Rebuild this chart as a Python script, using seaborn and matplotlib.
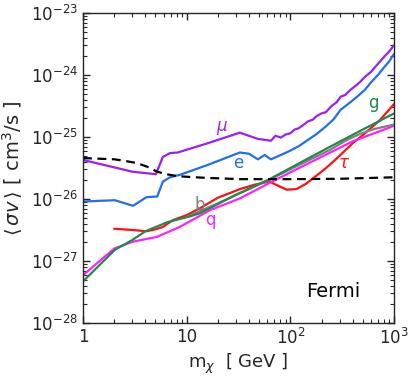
import matplotlib
matplotlib.use("Agg")
import matplotlib.pyplot as plt
import numpy as np
import pandas as pd
import seaborn as sns
from matplotlib.ticker import LogLocator, NullFormatter

sns.set_style("ticks")
plt.rcParams.update({'font.size': 12})
plt.rcParams['font.family'] = ['DejaVu Sans']

# Fermi limit (dashed) and channel curves, m in GeV, <sigma v> in cm^3/s
m_lim = [1, 2, 2.43, 3.3, 4.2, 5.2, 6.5, 8.1, 11, 15.7, 33, 100, 300, 1000]
sv_lim = [4.57e-26, 4.37e-26, 4.17e-26, 3.8e-26, 3.3e-26, 2.75e-26, 2.5e-26,
          2.34e-26, 2.26e-26, 2.19e-26, 2.09e-26, 2.09e-26, 2.12e-26, 2.24e-26]

m_mu = [1, 3.0, 5.05, 5.9, 6.9, 8.2, 16, 32.6, 48.6, 65, 72, 81, 90, 100, 110,
        120, 135, 147, 165, 180, 200, 220, 250, 280, 306, 340, 380, 430, 480,
        524, 600, 700, 800, 900, 1000]
lg_mu = [-25.37, -25.56, -25.60, -25.32, -25.26, -25.25, -25.10, -24.93, -25.03,
         -25.06, -24.98, -25.01, -24.96, -24.94, -24.88, -24.86, -24.80, -24.75,
         -24.72, -24.66, -24.62, -24.60, -24.50, -24.44, -24.35, -24.32, -24.24,
         -24.17, -24.10, -24.03, -23.95, -23.82, -23.71, -23.62, -23.52]

m_e = [1, 2.03, 3.04, 4.1, 5.2, 5.9, 6.9, 8.6, 16, 32.6, 40, 48.6, 56.6, 65, 81,
       100, 120, 147, 180, 220, 260, 306, 360, 420, 524, 600, 700, 800, 900, 1000]
lg_e = [-26.04, -26.02, -26.11, -25.97, -25.96, -25.72, -25.65, -25.61, -25.45,
        -25.25, -25.27, -25.36, -25.29, -25.36, -25.29, -25.22, -25.15, -25.05,
        -24.95, -24.83, -24.72, -24.56, -24.47, -24.38, -24.24, -24.12, -24.00,
        -23.88, -23.78, -23.66]

m_tau = [2.0, 3.0, 4.1, 5.0, 5.9, 7.4, 10, 13.4, 20, 32.7, 45, 63, 75, 92.6, 115,
         140, 165, 200, 240, 300, 400, 500, 730, 1000]
lg_tau = [-26.48, -26.50, -26.52, -26.49, -26.45, -26.34, -26.26, -26.15, -25.98,
          -25.84, -25.77, -25.72, -25.78, -25.85, -25.84, -25.76, -25.67, -25.56,
          -25.45, -25.30, -25.10, -24.97, -24.73, -24.47]

m_g = [1, 2.03, 3.0, 4.0, 6.6, 10.8, 13.4, 30, 63, 100, 240, 500, 1000]
lg_g = [-27.33, -26.82, -26.66, -26.52, -26.37, -26.28, -26.23, -25.93, -25.68,
        -25.50, -25.16, -24.88, -24.62]

m_b = [10, 20, 40, 63, 100, 240, 350, 470, 650, 1000]
lg_b = [-26.29, -26.07, -25.84, -25.69, -25.52, -25.21, -25.05, -24.95, -24.87, -24.80]

m_q = [1, 2.0, 3.0, 5.2, 8.6, 16.8, 32.7, 60, 100, 200, 400, 1000]
lg_q = [-27.23, -26.80, -26.69, -26.61, -26.45, -26.18, -25.99, -25.76, -25.57,
        -25.32, -25.07, -24.82]

x_ticks = [1, 10, 100, 1000]
x_ticklabels = ["1", "10", r"$10^2$", r"$10^3$"]
y_ticks = [1e-28, 1e-27, 1e-26, 1e-25, 1e-24, 1e-23]

channels = [
    ("mu", m_mu, lg_mu, "#9b1ff2"),
    ("e", m_e, lg_e, "#1f6ff0"),
    ("tau", m_tau, lg_tau, "#ff1010"),
    ("q", m_q, lg_q, "#ff20ff"),
    ("b", m_b, lg_b, "#808080"),
    ("g", m_g, lg_g, "#1f8a4c"),
]

fig, ax = plt.subplots(figsize=(4.16, 3.78), dpi=100)
fig.subplots_adjust(left=0.1995, right=0.947, top=0.9656, bottom=0.1455)

for name, m, lg, col in channels:
    df = pd.DataFrame({"m": m, "sv": 10.0 ** np.array(lg)})
    sns.lineplot(data=df, x="m", y="sv", ax=ax, color=col, lw=1.6, sort=False)

df_lim = pd.DataFrame({"m": m_lim, "sv": sv_lim})
sns.lineplot(data=df_lim, x="m", y="sv", ax=ax, color="black", lw=1.6,
             linestyle=(0, (4, 2.5)), sort=False)

ax.set_xscale("log")
ax.set_yscale("log")
ax.set_xlim(1, 1000)
ax.set_ylim(1e-28, 1e-23)

ax.set_xticks(x_ticks)
ax.set_xticklabels(x_ticklabels)
ax.set_yticks(y_ticks)
ax.xaxis.set_minor_locator(LogLocator(base=10, subs=np.arange(2, 10)))
ax.xaxis.set_minor_formatter(NullFormatter())
ax.yaxis.set_minor_locator(LogLocator(base=10, subs=np.arange(2, 10), numticks=20))
ax.yaxis.set_minor_formatter(NullFormatter())

ax.tick_params(which="both", direction="in", top=True, right=True, labelsize=12)
ax.tick_params(which="major", length=5, width=1)
ax.tick_params(which="minor", length=3, width=0.8)
for s in ax.spines.values():
    s.set_linewidth(1.0)

ax.set_xlabel(r"m$_{\chi}$  [ GeV ]", fontsize=13, labelpad=3)
ax.set_ylabel(r"$\langle\,\sigma v\,\rangle$ [ cm$^3$/s ]", fontsize=14, labelpad=4)

ax.text(21.9, 1.4e-25, r"$\mu$", color="#9b1ff2", fontsize=12, ha="center", va="center")
ax.text(31.2, 3.8e-26, "e", color="#1f6ff0", fontsize=12, ha="center", va="center")
ax.text(640, 3.5e-25, "g", color="#1f8a4c", fontsize=12, ha="center", va="center")
ax.text(329, 3.8e-26, r"$\tau$", color="#ff1010", fontsize=12, ha="center", va="center")
ax.text(13.4, 7.9e-27, "b", color="#808080", fontsize=12, ha="center", va="center")
ax.text(16.8, 4.6e-27, "q", color="#ff20ff", fontsize=12, ha="center", va="center")
ax.text(257, 3.2e-28, "Fermi", color="black", fontsize=14, ha="center", va="center")

fig.savefig("out.png", dpi=100)
